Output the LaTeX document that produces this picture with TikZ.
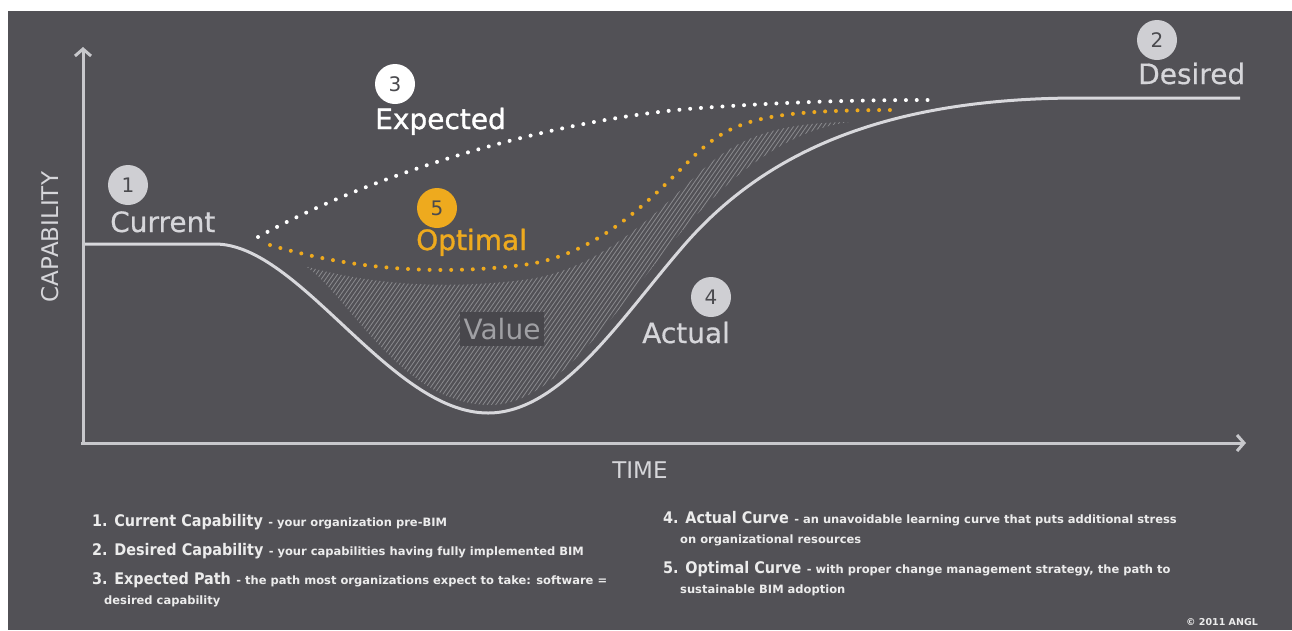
\documentclass[tikz,border=0pt]{standalone}
\usepackage{fontspec}
\setmainfont{DejaVu Sans}
\newfontfamily\condfont{DejaVu Sans Condensed}
\newfontfamily\medfont[FakeBold=0.5]{DejaVu Sans}
\newfontfamily\semifont[FakeBold=1.2]{DejaVu Sans}
\usetikzlibrary{arrows.meta}
\definecolor{bg}{RGB}{82,81,86}
\definecolor{axisc}{RGB}{200,200,204}
\definecolor{curvec}{RGB}{216,216,220}
\definecolor{labelc}{RGB}{214,214,218}
\definecolor{circg}{RGB}{207,207,211}
\definecolor{numc}{RGB}{74,74,78}
\definecolor{orangec}{RGB}{238,170,30}
\definecolor{hatchc}{RGB}{138,138,142}
\definecolor{valbox}{RGB}{72,71,76}
\definecolor{valtext}{RGB}{160,160,164}
\definecolor{legc}{RGB}{236,236,236}
\tikzset{
  axisline/.style={draw=axisc, line width=3pt, -{Straight Barb[length=7pt,width=16pt]}},
  actualcurve/.style={draw=curvec, line width=3pt},
  dotline/.style={line width=4pt, line cap=round, dash pattern=on 0pt off 10.8pt},
  numcirc/.style={circle, minimum size=40pt, inner sep=0pt, text=numc, font=\fontsize{20}{20}\selectfont},
  biglabel/.style={anchor=base west, inner sep=0pt, font=\medfont\fontsize{28}{28}\selectfont},
  stronglabel/.style={anchor=base west, inner sep=0pt, font=\semifont\fontsize{28}{28}\selectfont},
  axislabel/.style={text=labelc, inner sep=0pt, font=\fontsize{23}{23}\selectfont},
  leghead/.style={anchor=base west, inner sep=0pt, text=legc, font=\condfont\bfseries\fontsize{16}{16}\selectfont},
  legsmall/.style={anchor=base west, inner sep=0pt, text=legc, font=\bfseries\fontsize{11.5}{11.5}\selectfont},
  hatchline/.style={draw=hatchc, line width=0.8pt}
}
\begin{document}
\begin{tikzpicture}[x=1pt,y=-1pt]
\useasboundingbox (0,0) rectangle (1292,630);
\fill[white] (0,0) rectangle (1292,630);
\fill[bg] (8,11) rectangle (1292,630);

% hatched value region
\begin{scope}
\clip (305,266) .. controls (370,285) and (450,290) .. (530,279)
  .. controls (600,268) and (655,215) .. (700,172)
  .. controls (740,135) and (780,123) .. (850,122)
  .. controls (800,128) and (740,160) .. (672,243)
  .. controls (613,314) and (555,405) .. (490,405)
  .. controls (400,405) and (345,290) .. (305,266) -- cycle;
\foreach \i in {0,...,135} \draw[hatchline] ({140+\i*4.3},440) -- ++(250,-357.5);
\end{scope}

% axes
\coordinate (origin) at (83,445);
\coordinate (ytip) at (83,47);
\coordinate (xorigin) at (81,443);
\coordinate (xtip) at (1246,443);
\draw[axisline] (origin) -- (ytip);
\draw[axisline] (xorigin) -- (xtip);

% actual curve
\draw[actualcurve] (85,244) -- (215,244) .. controls (300,244) and (390,413) .. (488,413)
  .. controls (560,413) and (620,320) .. (680,250)
  .. controls (760,155) and (880,98) .. (1080,98) -- (1240,98);

% expected dotted
\draw[dotline, white] (258,237) .. controls (380,170) and (560,118) .. (700,108)
  .. controls (800,101) and (870,100) .. (932,100);
% optimal dotted
\draw[dotline, orangec] (270,245) .. controls (360,272) and (450,275) .. (530,264)
  .. controls (600,252) and (650,200) .. (690,160)
  .. controls (730,120) and (760,110) .. (897,110);

% value label
\node[fill=valbox, minimum width=84pt, minimum height=34pt, inner sep=0pt, text=valtext, font=\fontsize{28}{28}\selectfont] (value) at (502,329) {Value};

% numbered labels
\node[numcirc, fill=circg] (n1) at (128,185) {1};
\node[biglabel, text=labelc] (l1) at (110,232) {Current};
\node[numcirc, fill=circg] (n2) at (1157,40) {2};
\node[biglabel, text=labelc] (l2) at (1138,84) {Desired};
\node[numcirc, fill=white] (n3) at (395,84) {3};
\node[stronglabel, text=white] (l3) at (375,129) {Expected};
\node[numcirc, fill=orangec] (n5) at (437,208) {5};
\node[stronglabel, text=orangec] (l5) at (416,250) {Optimal};
\node[numcirc, fill=circg] (n4) at (711,297) {4};
\node[biglabel, text=labelc] (l4) at (642,343) {Actual};

% axis titles
\node[axislabel, rotate=90] (cap) at (50,237) {CAPABILITY};
\node[axislabel] (time) at (640,470) {TIME};

% legend
\node[leghead] (h1) at (92,526) {1. Current Capability};
\node[legsmall] (s1) at ([xshift=5pt]h1.base east) {- your organization pre-BIM};
\node[leghead] (h2) at (92,555) {2. Desired Capability};
\node[legsmall] (s2) at ([xshift=5pt]h2.base east) {- your capabilities having fully implemented BIM};
\node[leghead] (h3) at (92,584) {3. Expected Path};
\node[legsmall] (s3) at ([xshift=5pt]h3.base east) {- the path most organizations expect to take: software =};
\node[legsmall] (s3b) at (104,604) {desired capability};
\node[leghead] (h4) at (663,523) {4. Actual Curve};
\node[legsmall] (s4) at ([xshift=5pt]h4.base east) {- an unavoidable learning curve that puts additional stress};
\node[legsmall] (s4b) at (680,543) {on organizational resources};
\node[leghead] (h5) at (663,573) {5. Optimal Curve};
\node[legsmall] (s5) at ([xshift=5pt]h5.base east) {- with proper change management strategy, the path to};
\node[legsmall] (s5b) at (680,593) {sustainable BIM adoption};
\node[inner sep=0pt, text=legc, font=\bfseries\fontsize{9.5}{9.5}\selectfont] (copy) at (1222,622) {© 2011 ANGL};
\end{tikzpicture}
\end{document}
